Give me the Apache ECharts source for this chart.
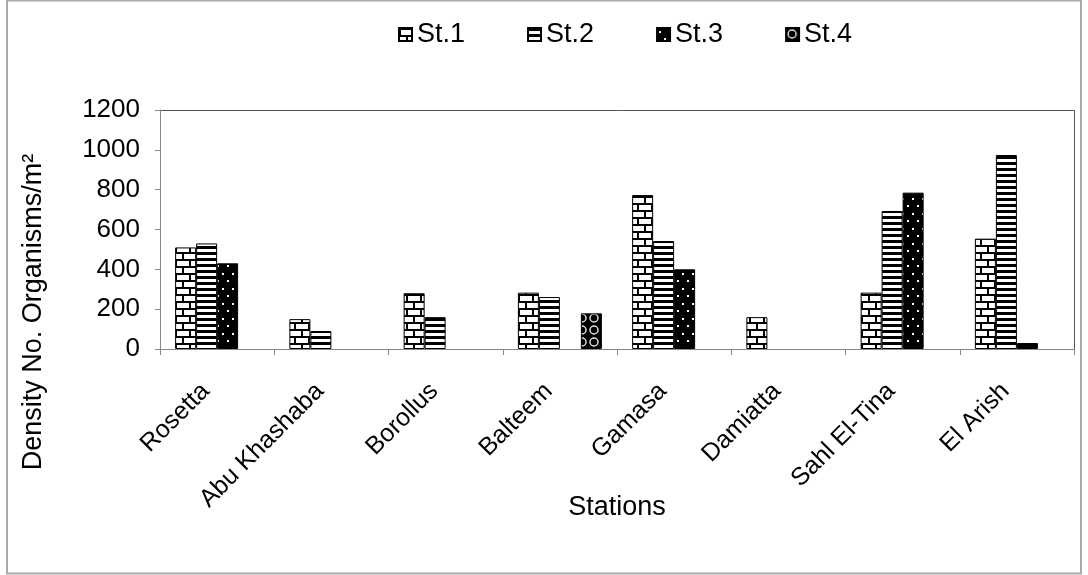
<!DOCTYPE html>
<html><head><meta charset="utf-8">
<script src="https://cdn.jsdelivr.net/npm/echarts@6/dist/echarts.min.js"></script>
<style>html,body{margin:0;padding:0;background:#fff}#c{width:1088px;height:575px}</style>
</head><body><div id="c"></div>
<script>
const categories = ['Rosetta','Abu Khashaba','Borollus','Balteem','Gamasa','Damiatta','Sahl El-Tina','El Arish'];
const seriesNames = ['St.1','St.2','St.3','St.4'];
const st1 = [510, 150, 280, 283, 773, 160, 283, 554];
const st2 = [530, 90, 160, 261, 542, null, 693, 974];
const st3 = [430, null, null, null, 400, null, 785, 30];
const st4 = [null, null, null, 179, null, null, null, null];
const yTicks = [0, 200, 400, 600, 800, 1000, 1200];
const yTitle = 'Density No. Organisms/m²';
const xTitle = 'Stations';

function mk(w, h, draw) {
  const c = document.createElement('canvas'); c.width = w; c.height = h;
  const g = c.getContext('2d'); draw(g, w, h); return c;
}
const brick = mk(14, 14, (g) => {
  g.fillStyle = '#fff'; g.fillRect(0,0,14,14);
  g.fillStyle = '#000';
  g.fillRect(0,0,14,2); g.fillRect(0,7,14,2);
  g.fillRect(0,0,2,7); g.fillRect(7,7,2,7);
});
const stripes = mk(6, 6, (g) => {
  g.fillStyle = '#fff'; g.fillRect(0,0,6,6);
  g.fillStyle = '#000'; g.fillRect(0,0,6,3);
});
const dots = mk(10, 15, (g) => {
  g.fillStyle = '#000'; g.fillRect(0,0,10,15);
  g.fillStyle = '#fff'; g.fillRect(2,3,2,2); g.fillRect(7,10,2,2);
});
const circles = mk(12, 12, (g) => {
  g.fillStyle = '#000'; g.fillRect(0,0,12,12);
  g.strokeStyle = '#ddd'; g.lineWidth = 1.5;
  g.beginPath(); g.arc(6,6,4,0,Math.PI*2); g.stroke();
});
const pats = [brick, stripes, dots, circles];
const datas = [st1, st2, st3, st4];
const FONT = 'Liberation Sans, Arial, sans-serif';

const chart = echarts.init(document.getElementById('c'));
chart.setOption({
  animation: false,
  backgroundColor: '#fff',
  graphic: [
    {type:'rect', shape:{x:7,y:0.5,width:1074,height:573}, style:{fill:null, stroke:'#aaa', lineWidth:2}, silent:true},
    {type:'polyline', shape:{points:[[160,110.5],[1074.5,110.5],[1074.5,349]]}, style:{fill:null, stroke:'#555', lineWidth:1}, silent:true},
    {type:'text', x:34, y:312, rotation: Math.PI/2, silent:true,
     style:{text: yTitle, align:'center', verticalAlign:'middle', fill:'#000', font: '27px ' + FONT}}
  ],
  legend: {
    top: 16, left: 393, itemWidth: 13, itemHeight: 13, itemGap: 62, icon: 'rect',
    textStyle: {fontFamily: FONT, fontSize: 27, color: '#000', padding: [0,0,0,0]},
    data: seriesNames
  },
  grid: {left: 160, right: 14, top: 110, bottom: 226, containLabel: false},
  xAxis: {
    type: 'category', data: categories,
    name: xTitle, nameLocation: 'middle', nameGap: 145, nameMoveOverlap: false,
    nameTextStyle: {fontFamily: FONT, fontSize: 27, color: '#000'},
    axisLine: {lineStyle: {color: '#888'}},
    axisTick: {show: true, alignWithLabel: false, length: 6, lineStyle: {color: '#888'}},
    axisLabel: {rotate: 45, fontFamily: FONT, fontSize: 25, color: '#000', margin: 27, padding: [0, 16, 0, 0]}
  },
  yAxis: {
    type: 'value', min: 0, max: 1200, interval: 200,
    axisLine: {show: true, lineStyle: {color: '#888'}},
    axisTick: {show: true, length: 5, lineStyle: {color: '#888'}},
    splitLine: {show: false},
    axisLabel: {fontFamily: FONT, fontSize: 26, color: '#000', margin: 20,
      formatter: (v) => yTicks.includes(v) ? String(v) : ''}
  },
  series: seriesNames.map((n, i) => ({
    name: n, type: 'bar', data: datas[i], barWidth: 21, barGap: '0%',
    itemStyle: {color: {image: pats[i], repeat: 'repeat'}, borderColor: '#000', borderWidth: 1}
  }))
});
</script></body></html>
